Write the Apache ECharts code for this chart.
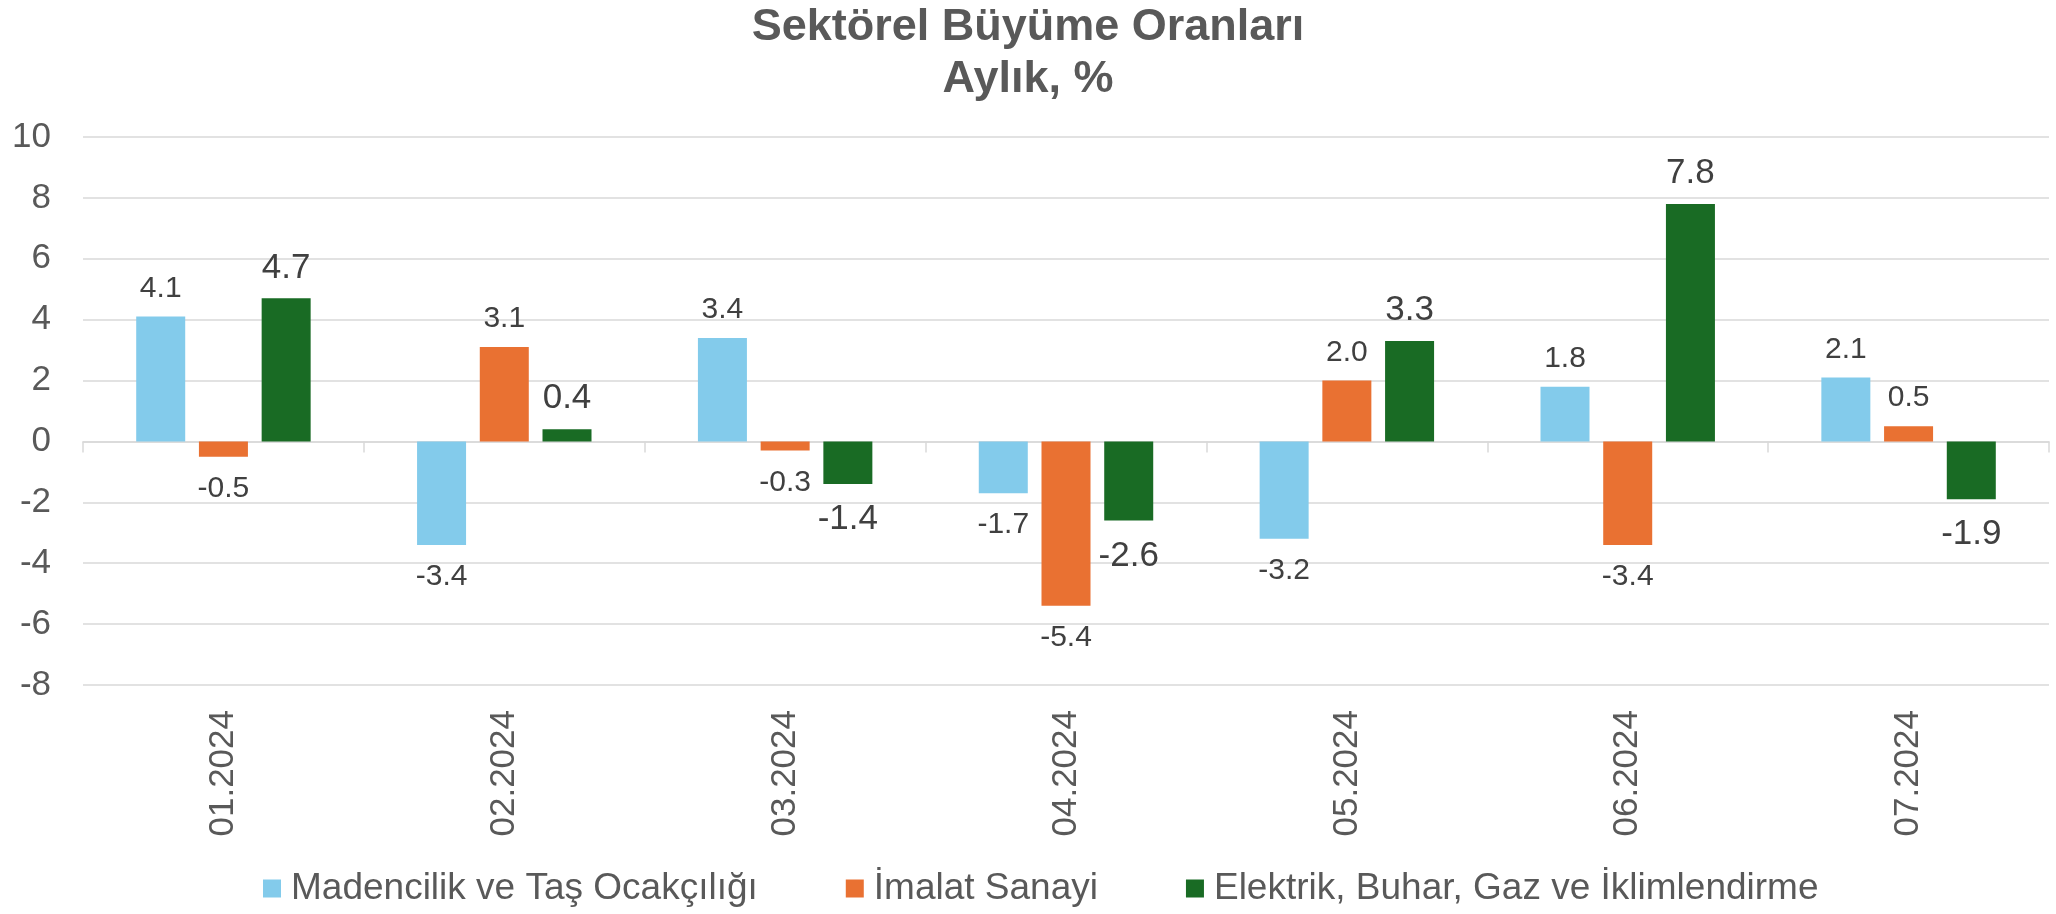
<!DOCTYPE html>
<html>
<head>
<meta charset="utf-8">
<script src="https://cdn.jsdelivr.net/npm/echarts@6/dist/echarts.min.js"></script>
<style>
  html, body { margin: 0; padding: 0; background: #fff; }
  #main { width: 2056px; height: 914px; }
</style>
</head>
<body>
<div id="main"></div>
<script>
// veriler
var months = ['01.2024', '02.2024', '03.2024', '04.2024', '05.2024', '06.2024', '07.2024'];
var madencilik = [4.1, -3.4, 3.4, -1.7, -3.2, 1.8, 2.1];
var imalat = [-0.5, 3.1, -0.3, -5.4, 2.0, -3.4, 0.5];
var elektrik = [4.7, 0.4, -1.4, -2.6, 3.3, 7.8, -1.9];
var seriesNames = ['Madencilik ve Taş Ocakçılığı', 'İmalat Sanayi', 'Elektrik, Buhar, Gaz ve İklimlendirme'];
var colors = ['#83CBEB', '#E97132', '#196B24'];

var FONT = 'Liberation Sans, Arial, sans-serif';

// pozitif değerde etiket üstte, negatifte altta
function withLabels(values, upDist, downDist) {
  return values.map(function (v) {
    return {
      value: v,
      label: {
        position: v >= 0 ? 'top' : 'bottom',
        distance: v >= 0 ? upDist : downDist
      }
    };
  });
}

function barSeries(i, values, fontSize, upDist, downDist) {
  return {
    name: seriesNames[i],
    type: 'bar',
    xAxisIndex: 0,
    barWidth: 49,
    barGap: '28%',
    itemStyle: { color: colors[i] },
    label: {
      show: true,
      color: '#404040',
      fontFamily: FONT,
      fontSize: fontSize,
      formatter: function (p) { return p.value.toFixed(1); }
    },
    data: withLabels(values, upDist, downDist)
  };
}

var myChart = echarts.init(document.getElementById('main'), null, { renderer: 'canvas' });
myChart.setOption({
  animation: false,
  color: colors,
  title: {
    text: 'Sektörel Büyüme Oranları\nAylık, %',
    left: 'center',
    top: 2,
    padding: [0, 0, 0, 14],
    textStyle: {
      fontFamily: FONT,
      fontSize: 45,
      fontWeight: 'bold',
      color: '#595959',
      lineHeight: 52
    }
  },
  legend: {
    left: 263,
    top: 870,
    padding: 0,
    itemGap: 88,
    itemWidth: 18,
    itemHeight: 18,
    icon: 'rect',
    textStyle: {
      fontFamily: FONT,
      fontSize: 37,
      color: '#595959',
      padding: [0, 0, 0, 5]
    },
    data: seriesNames
  },
  grid: {
    left: 83,
    right: 7,
    top: 137,
    bottom: 229,
    containLabel: false
  },
  xAxis: [{
    // alt etiketler
    type: 'category',
    position: 'bottom',
    data: months,
    axisLine: { show: false, onZero: false },
    axisTick: { show: false },
    axisLabel: {
      rotate: 90,
      margin: 25,
      color: '#595959',
      fontFamily: FONT,
      fontSize: 35
    }
  }, {
    // sıfır çizgisi
    type: 'category',
    position: 'top',
    data: months,
    axisLine: {
      show: true,
      onZero: true,
      lineStyle: { color: '#D9D9D9', width: 1.5 }
    },
    axisTick: {
      show: true,
      inside: true,
      length: 11,
      lineStyle: { color: '#D9D9D9', width: 1.5 }
    },
    axisLabel: { show: false },
    splitLine: { show: false }
  }],
  yAxis: {
    type: 'value',
    min: -8,
    max: 10,
    interval: 2,
    axisLine: { show: false },
    axisTick: { show: false },
    axisLabel: {
      margin: 32,
      color: '#595959',
      fontFamily: FONT,
      fontSize: 35
    },
    splitLine: {
      lineStyle: { color: '#D9D9D9', width: 1.5 }
    }
  },
  series: [
    barSeries(0, madencilik, 30, 13, 17),
    barSeries(1, imalat, 30, 13, 17),
    barSeries(2, elektrik, 35, 13, 18)
  ]
});

window.addEventListener('resize', function () {
  myChart.resize();
});
</script>
</body>
</html>
